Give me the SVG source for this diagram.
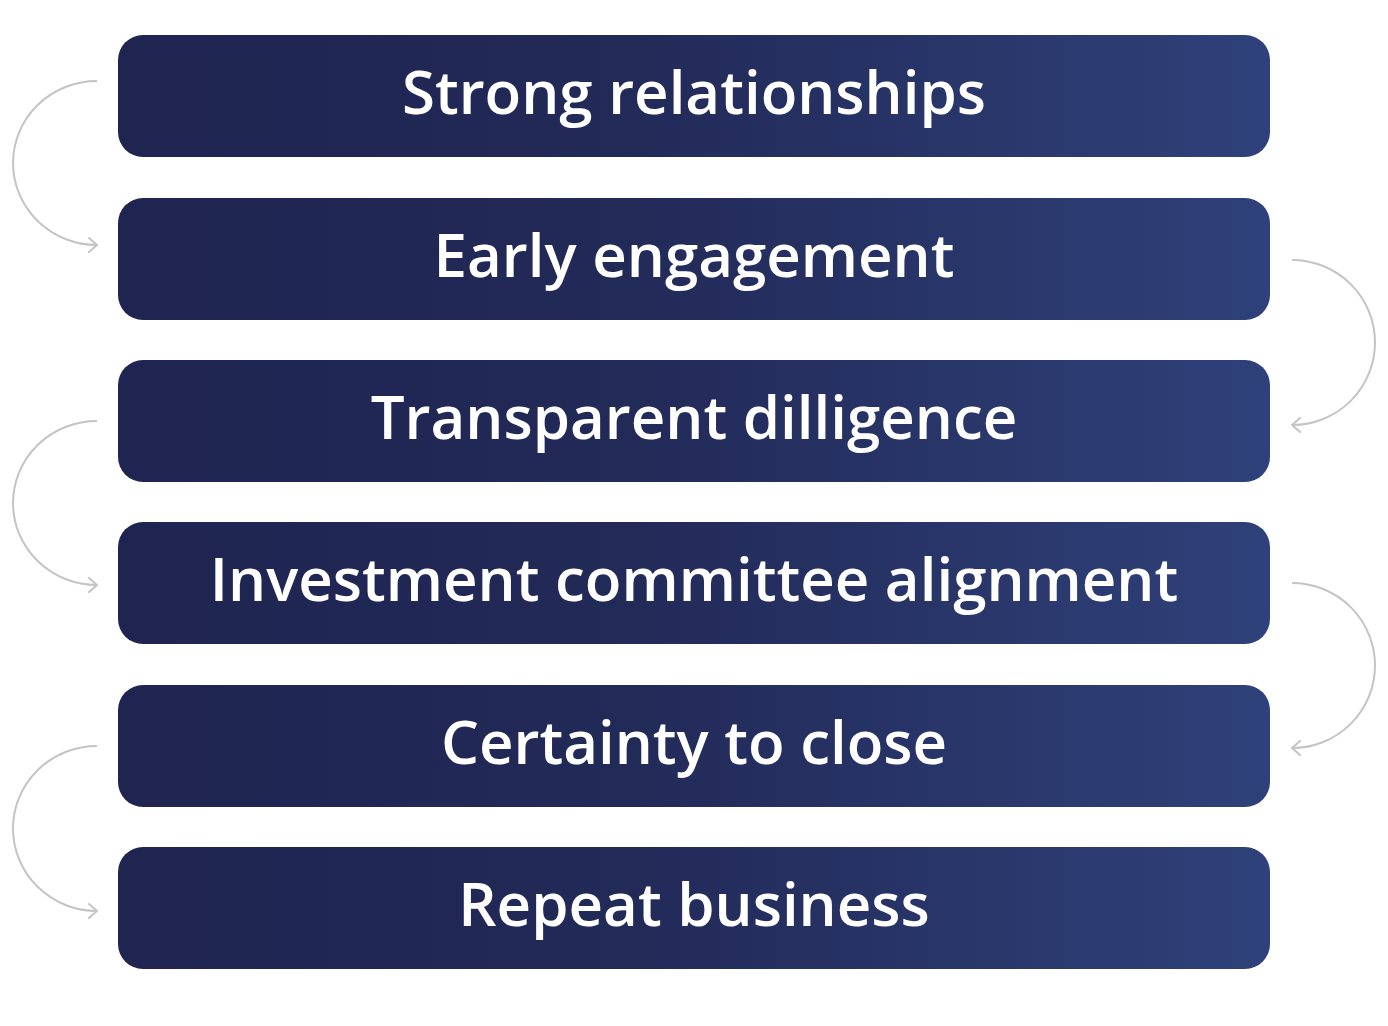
<svg xmlns="http://www.w3.org/2000/svg" width="1388" height="1026" viewBox="0 0 1388 1026">
<defs>
<linearGradient id="bg" x1="0" y1="0" x2="1" y2="0">
<stop offset="0" stop-color="#1f2450"/>
<stop offset="0.45" stop-color="#222a58"/>
<stop offset="1" stop-color="#2f417a"/>
</linearGradient>
<marker id="ah" markerWidth="16" markerHeight="16" refX="11" refY="8" orient="auto" markerUnits="userSpaceOnUse">
<path d="M3,1 L11,8 L3,15" fill="none" stroke="#c4c4c4" stroke-width="2" stroke-linecap="round" stroke-linejoin="round"/>
</marker>
</defs>
<style>
.box{fill:url(#bg);}
.lbl{fill:#ffffff;font-family:"Open Sans","Liberation Sans",sans-serif;font-weight:600;font-size:60px;text-anchor:middle;font-variant-ligatures:none;}
.conn{fill:none;stroke:#c4c4c4;stroke-width:2;marker-end:url(#ah);}
</style>
<rect width="1388" height="1026" fill="#ffffff"/>
<g id="connectors">
<path class="conn" d="M97,81 A84,82 0 0 0 97,245"/>
<path class="conn" d="M1292,260 A83,82.5 0 0 1 1292,425"/>
<path class="conn" d="M97,421 A84,82 0 0 0 97,585"/>
<path class="conn" d="M1292,583 A83,82.5 0 0 1 1292,748"/>
<path class="conn" d="M97,746 A84,82.5 0 0 0 97,911"/>
</g>
<g id="n1"><rect class="box" x="118" y="35" width="1152" height="122" rx="25"/><text class="lbl" x="694" y="114">Strong relationships</text></g>
<g id="n2"><rect class="box" x="118" y="198" width="1152" height="122" rx="25"/><text class="lbl" x="694" y="277">Early engagement</text></g>
<g id="n3"><rect class="box" x="118" y="360" width="1152" height="122" rx="25"/><text class="lbl" x="694" y="439">Transparent dilligence</text></g>
<g id="n4"><rect class="box" x="118" y="522" width="1152" height="122" rx="25"/><text class="lbl" x="694" y="601">Investment committee alignment</text></g>
<g id="n5"><rect class="box" x="118" y="685" width="1152" height="122" rx="25"/><text class="lbl" x="694" y="764">Certainty to close</text></g>
<g id="n6"><rect class="box" x="118" y="847" width="1152" height="122" rx="25"/><text class="lbl" x="694" y="926">Repeat business</text></g>
</svg>
